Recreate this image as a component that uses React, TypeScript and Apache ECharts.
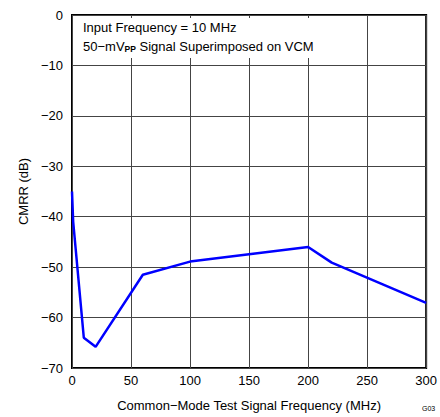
import React, { useEffect, useRef } from "react";
import * as echarts from "echarts";

const freqMHz = [0, 1, 10, 20, 60, 100, 200, 220, 300];
const cmrrDb = [-35, -41, -64, -65.8, -51.5, -48.9, -46, -49.1, -57.1];
const xTicks = [0, 50, 100, 150, 200, 250, 300];
const yTicks = [0, -10, -20, -30, -40, -50, -60, -70];

const FONT = "'Liberation Sans', Arial, sans-serif";
const FS = 13;
const fmt = (v: number) => (v < 0 ? "\u2212" + Math.abs(v) : String(v));

export default function App() {
  const ref = useRef<HTMLDivElement>(null);
  useEffect(() => {
    const chart = echarts.init(ref.current!, null, { renderer: "svg" });
    chart.setOption({
      animation: false,
      backgroundColor: "#fff",
      textStyle: { fontFamily: FONT },
      grid: { left: 72, top: 15, right: 13, bottom: 48, show: true, borderColor: "#000", borderWidth: 2 },
      xAxis: {
        type: "value",
        min: xTicks[0],
        max: xTicks[xTicks.length - 1],
        interval: 50,
        name: "Common\u2212Mode Test Signal Frequency (MHz)",
        nameLocation: "middle",
        nameGap: 31,
        nameTextStyle: { fontFamily: FONT, fontSize: FS, color: "#000" },
        axisLine: { show: false },
        axisTick: { show: false },
        axisLabel: { fontFamily: FONT, fontSize: FS, color: "#000", margin: 6, formatter: fmt },
        splitLine: { show: true, lineStyle: { color: "#444", width: 1 } },
      },
      yAxis: {
        type: "value",
        min: yTicks[yTicks.length - 1],
        max: yTicks[0],
        interval: 10,
        name: "CMRR (dB)",
        nameLocation: "middle",
        nameGap: 37,
        nameTextStyle: { fontFamily: FONT, fontSize: FS, color: "#000" },
        axisLine: { show: false },
        axisTick: { show: false },
        axisLabel: { fontFamily: FONT, fontSize: FS, color: "#000", margin: 9, formatter: fmt },
        splitLine: { show: true, lineStyle: { color: "#444", width: 1 } },
      },
      series: [
        {
          type: "line",
          data: freqMHz.map((f, i) => [f, cmrrDb[i]]),
          showSymbol: false,
          lineStyle: { color: "#0000ff", width: 2.5 },
          clip: true,
        },
      ],
      graphic: [
        { type: "rect", shape: { x: 75, y: 18, width: 240, height: 40 }, style: { fill: "#fff" }, z: 50 },
        {
          type: "text",
          x: 83,
          y: 21,
          z: 51,
          style: { text: "Input Frequency = 10 MHz", fontFamily: FONT, fontSize: FS, fill: "#000" },
        },
        {
          type: "text",
          x: 83,
          y: 39,
          z: 51,
          style: {
            text: "50\u2212mV{s|PP} Signal Superimposed on VCM",
            fontFamily: FONT,
            fontSize: FS,
            fill: "#000",
            rich: { s: { fontFamily: FONT, fontSize: 8.5, fontWeight: "bold", fill: "#000", padding: [5, 0, 0, 0] } },
          },
        },
        {
          type: "text",
          x: 422,
          y: 405,
          style: { text: "G03", fontFamily: FONT, fontSize: 7, fill: "#000" },
        },
      ],
    });
    return () => chart.dispose();
  }, []);
  return <div ref={ref} style={{ position: "fixed", left: 0, top: 0, width: 440, height: 417 }} />;
}
